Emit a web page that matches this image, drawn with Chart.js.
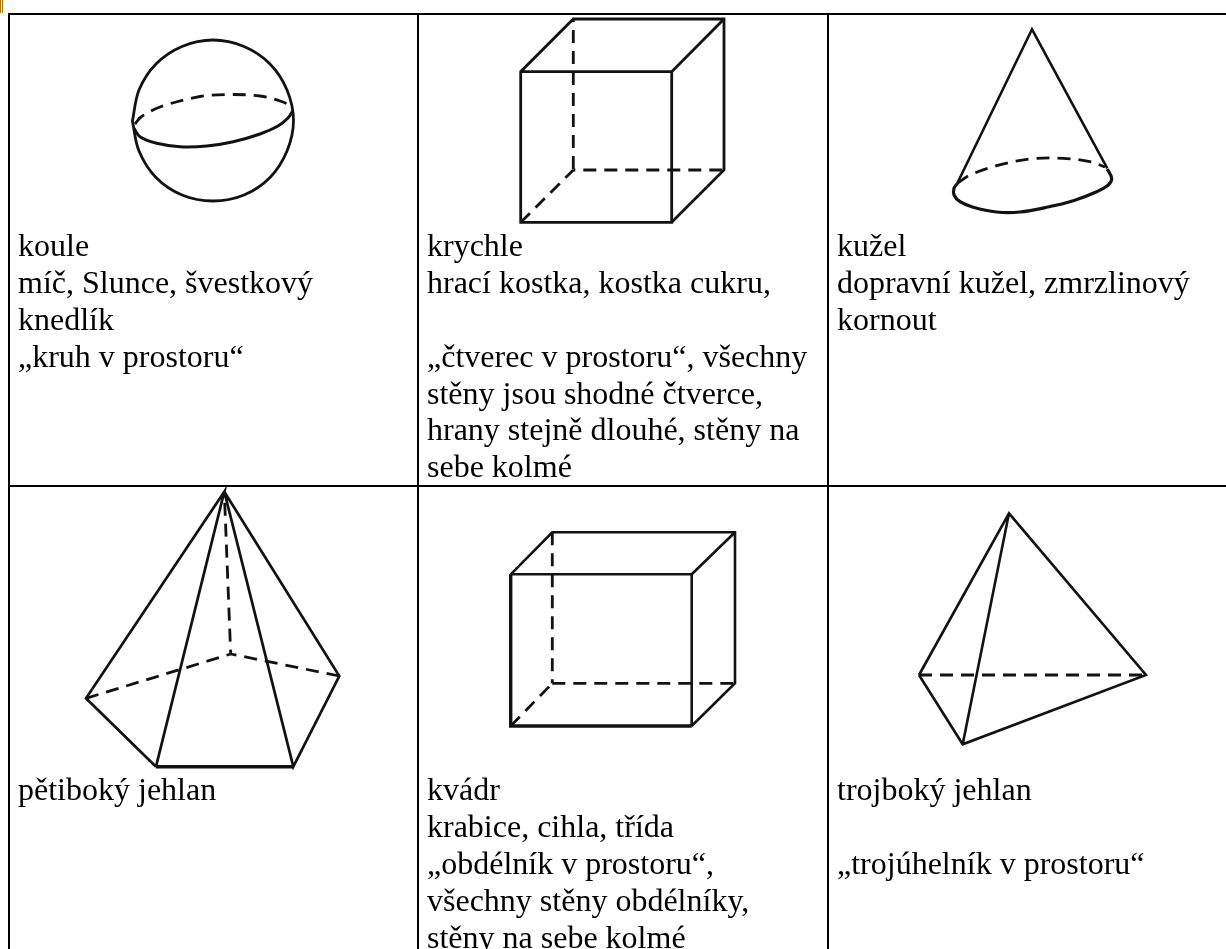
<!DOCTYPE html>
<html><head><meta charset="utf-8">
<style>html,body{margin:0;padding:0;background:#fff;overflow:hidden}#w{position:absolute;left:0;top:0;width:1226px;height:949px}</style>
<script src="https://cdn.jsdelivr.net/npm/chart.js@4/dist/chart.umd.min.js"></script>
</head><body><div id="w"><canvas id="c"></canvas></div>
<script>
// table rules
const tableLeft=[[9,14],[9,949]];
const tableTop=[[8,14],[1226,14]];
const tableMid=[[9,486],[1226,486]];
const colA=[[418,14],[418,949]];
const colB=[[828,14],[828,949]];
const cornerMarkA=[[0.5,0],[0.5,13]];
const cornerMarkB=[[2.5,0],[2.5,13]];
// sphere
const sphereOutline=[[132.5,121.5],[132.5,120.5],[139,90],[156,64],[182,46.5],[213,40],[244,46.5],[270,64],[287,90],[293.5,120.5],[287,151],[270,177.5],[244,195],[213,201],[182,195],[156,177.5],[139,151],[132.5,121.5],[132.5,120.5],[132.5,119.5]];
const sphereFront=[[134,128.3],[140,136.7],[156.7,143.3],[180,146.7],[206.7,146],[233.3,141.7],[260,134],[278,126],[288,118],[292.7,111]];
const sphereBack=[[135,124],[141,117],[160,107],[200,96.5],[228,94.5],[260,96],[283,102],[292,107]];
// cube
const cubeSolid=[[520.7,71.7],[671.7,71.7],[671.7,222.3],[520.7,222.3],[520.7,71.7],[573.3,19],[724,19],[724,170],[671.7,222.3],null,[671.7,71.7],[724,19]];
const cubeDashV=[[573.3,19],[573.3,170]];
const cubeDashH=[[573.3,170],[724,170]];
const cubeDashD=[[520.7,222.3],[573.3,170]];
// cone
const coneSides=[[957.3,183.3],[1032,29.3],[1107.3,168.3]];
const coneFront=[[957.3,183.3],[954,188.3],[954,195],[960,201.7],[973.3,207.3],[996.7,212],[1020,212],[1046.7,207.3],[1073.3,200.7],[1096.7,191.7],[1108.3,185],[1111.7,178.3],[1107.3,169]];
const coneBack=[[957.3,183.3],[970,175],[996.7,165.7],[1030,159],[1063.3,158.3],[1090,161.7],[1105,167]];
// pentagonal pyramid
const pyrSolid=[[156,766.7],[86,698.3],[224.3,491.7],[156,766.7],null,[224.3,491.7],[293.3,766.7],[339.3,676],[224.3,491.7]];
const pyrBase=[[156,766.7],[293.3,766.7]];
const pyrDash1=[[224.3,491.7],[230.7,654]];
const pyrDash2=[[86,698.3],[230.7,654]];
const pyrDash3=[[339.3,676],[230.7,654]];
// box
const boxSolid=[[691.7,574.3],[691.7,726],null,[510.7,574.3],[552.3,532.3],[735,532.3],[735,683.3],[691.7,726],null,[691.7,574.3],[735,532.3],null,[510.7,574.3],[691.7,574.3]];
const boxHeavy=[[510.7,574.3],[510.7,726],[691.7,726]];
const boxDashV=[[552.3,532.3],[552.3,683.3]];
const boxDashH=[[552.3,683.3],[735,683.3]];
const boxDashD=[[510.7,726],[552.3,683.3]];
// triangular pyramid
const tetraSolid=[[919,675],[1009,513.3],[1146,675],[962.7,744.3],[919,675],null,[1009,513.3],[962.7,744.3]];
const tetraDash=[[919,675],[1146,675]];
// captions
const cellTexts=[
 [18,256,'koule'],[18,293,'míč, Slunce, švestkový'],[18,330,'knedlík'],[18,367,'„kruh v prostoru“'],
 [427,256,'krychle'],[427,293,'hrací kostka, kostka cukru,'],[427,367,'„čtverec v prostoru“, všechny'],[427,404,'stěny jsou shodné čtverce,'],[427,440,'hrany stejně dlouhé, stěny na'],[427,477,'sebe kolmé'],
 [837,256,'kužel'],[837,293,'dopravní kužel, zmrzlinový'],[837,330,'kornout'],
 [18,800,'pětiboký jehlan'],
 [427,800,'kvádr'],[427,837,'krabice, cihla, třída'],[427,874,'„obdélník v prostoru“,'],[427,911,'všechny stěny obdélníky,'],[427,948,'stěny na sebe kolmé'],
 [837,800,'trojboký jehlan'],[837,874,'„trojúhelník v prostoru“']
];
const ink='#141111', dash=[13,8];
const pts=a=>a.map(p=>p?{x:p[0],y:p[1]}:{x:null,y:null});
const ds=(a,w,o={})=>Object.assign({data:pts(a),borderColor:ink,borderWidth:w,pointRadius:0,tension:0,fill:false,spanGaps:false,borderJoinStyle:'miter',borderCapStyle:'butt'},o);
const curve={tension:0.34};
const dashed=(off=0)=>({borderDash:dash,borderDashOffset:off});
const rule={borderColor:'#000'};
const datasets=[
 ds(tableLeft,2,rule),ds(tableTop,2,rule),ds(tableMid,2,rule),ds(colA,2,rule),ds(colB,2,rule),
 ds(cornerMarkA,1,{borderColor:'#a87408'}),ds(cornerMarkB,1.2,{borderColor:'#a87408'}),
 ds(sphereOutline,2.8,curve),ds(sphereFront,3,curve),ds(sphereBack,2.8,{...curve,...dashed(0)}),
 ds(cubeSolid,2.8),ds(cubeDashV,2.8,dashed(10)),ds(cubeDashH,2.8,dashed(11)),ds(cubeDashD,2.8,dashed(0)),
 ds(coneSides,2.6),ds(coneFront,3.2,curve),ds(coneBack,2.8,{...curve,...dashed(0)}),
 ds(pyrSolid,2.7),ds(pyrBase,3.4),ds(pyrDash1,2.8,dashed(10)),ds(pyrDash2,2.8,dashed(0)),ds(pyrDash3,2.8,dashed(0)),
 ds(boxSolid,2.6),ds(boxHeavy,3.4),ds(boxDashV,2.8,dashed(0)),ds(boxDashH,2.8,dashed(0)),ds(boxDashD,2.8,dashed(0)),
 ds(tetraSolid,2.6),ds(tetraDash,3.2,dashed(0))
];
const captions={id:'captions',afterDatasetsDraw(ch){const c=ch.ctx,x=ch.scales.x,y=ch.scales.y;c.save();c.fillStyle='#000';c.font='32px "Liberation Serif"';c.textBaseline='alphabetic';c.textAlign='left';
 cellTexts.forEach(t=>c.fillText(t[2],x.getPixelForValue(t[0]),y.getPixelForValue(t[1])));c.restore();}};
new Chart(document.getElementById('c'),{type:'line',data:{datasets},plugins:[captions],options:{
 responsive:true,maintainAspectRatio:false,animation:false,parsing:false,normalized:true,
 layout:{padding:0},plugins:{legend:{display:false},title:{display:false},tooltip:{enabled:false}},
 scales:{x:{type:'linear',min:0,max:1226,display:false},y:{type:'linear',min:0,max:949,reverse:true,display:false}}}});
</script></body></html>
